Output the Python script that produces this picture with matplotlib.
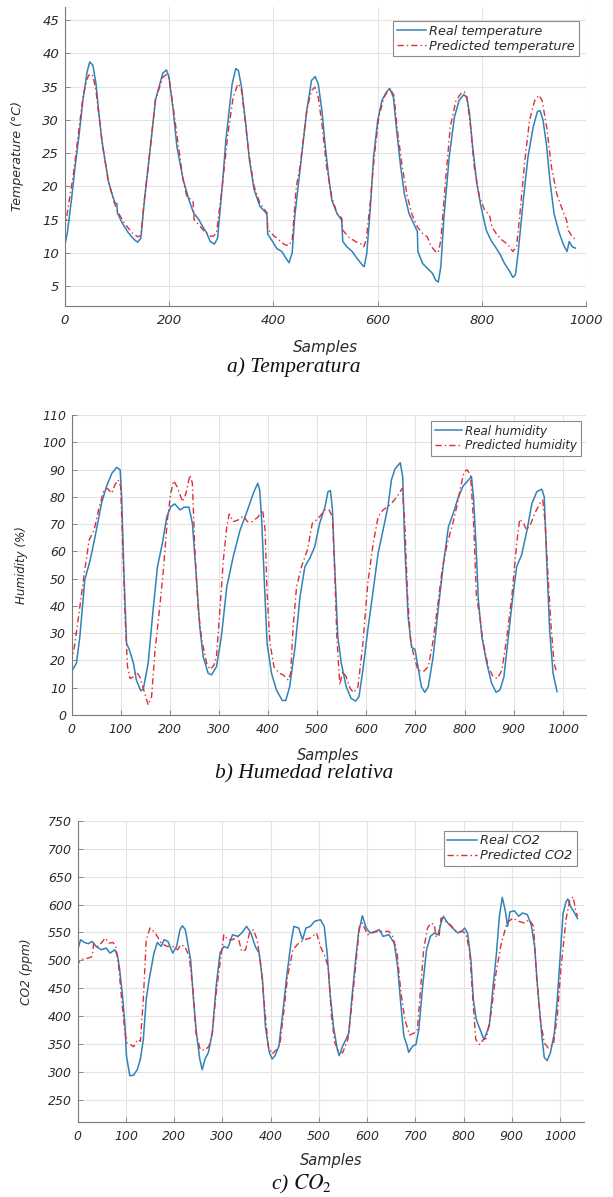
import matplotlib
matplotlib.use("Agg")
import matplotlib.pyplot as plt

plt.rcParams['mathtext.fontset'] = 'stix'

# ---------------- data: a) temperature ----------------
temp_real_x = [0, 5, 13, 20, 28, 35, 43, 48, 54, 60, 65, 71, 77, 84, 92, 97, 100, 101, 110, 122, 133, 140,
               146, 153, 163, 174, 188, 195, 200, 208, 215, 227, 238, 247, 257, 264, 272, 279, 287, 293,
               302, 309, 321, 328, 333, 339, 347, 354, 363, 374, 386, 388, 389, 396, 407, 416, 424, 430,
               436, 441, 451, 464, 473, 480, 486, 493, 499, 506, 512, 522, 531, 533, 541, 551, 560, 570,
               574, 579, 586, 592, 600, 608, 617, 623, 630, 637, 644, 651, 660, 670, 676, 677, 686, 695,
               705, 711, 716, 721, 727, 737, 747, 756, 765, 771, 776, 782, 790, 798, 808, 817, 827, 835,
               843, 853, 859, 864, 869, 879, 888, 898, 906, 911, 917, 924, 930, 938, 947, 956, 963, 967,
               973, 979]
temp_real = [11.0, 13, 18, 23, 28, 33, 37.2, 38.7, 38.2, 35.4, 31.4, 27, 24, 20.7, 18.5, 17.4, 17.4, 16, 14.5, 13, 12, 11.6,
             12.2, 18, 25, 33, 37, 37.5, 36.4, 31.4, 26, 21, 18, 16, 15, 14, 13, 11.7, 11.3, 12.2,
             20, 27, 35.4, 37.7, 37.4, 34.9, 29.4, 24, 19.5, 17, 16, 15.5, 12.8, 12, 10.6, 10.2, 9.2, 8.5,
             10, 15.5, 22.4, 31.4, 35.9, 36.5, 35.4, 31.4, 26.4, 21.4, 17.9, 15.9, 14.9, 11.7, 10.9, 10.2, 9.2, 8.2,
             7.9, 9.9, 16.9, 24.4, 29.9, 32.9, 34.2, 34.7, 33.4, 27.9, 22.9, 18.9, 15.9, 14.2, 13.2, 10.2, 8.4, 7.7,
             6.9, 5.9, 5.6, 7.9, 15.4, 24.4, 30.4, 32.9, 33.8, 33.3, 30.9, 25.9, 20.4, 16.9, 13.4, 11.9, 10.7, 9.7,
             8.4, 7.2, 6.3, 6.7, 9.9, 17.9, 24.4, 28.9, 31.2, 31.4, 29.9, 25.9, 20.9, 15.9, 13.2, 11.2, 10.2, 11.7,
             10.9, 10.7]
temp_pred_x = [0, 5, 17, 28, 35, 43, 48, 54, 60, 65, 73, 83, 95, 103, 114, 129, 140, 146, 152, 163, 174,
               188, 195, 200, 208, 218, 227, 234, 242, 246, 248, 257, 268, 279, 285, 291, 302, 313, 323,
               332, 338, 345, 354, 363, 374, 386, 388, 389, 399, 411, 422, 430, 436, 444, 451, 464, 473,
               480, 486, 493, 502, 512, 522, 531, 533, 544, 557, 567, 573, 578, 586, 594, 602, 612, 623,
               631, 637, 647, 657, 666, 676, 686, 695, 703, 711, 716, 721, 729, 739, 750, 760, 766, 771,
               778, 785, 795, 805, 814, 819, 827, 837, 850, 859, 866, 872, 882, 891, 901, 909, 915, 924,
               933, 943, 952, 962, 965, 973, 981]
temp_pred = [13.5, 16, 22, 29, 33.5, 36.2, 36.9, 36.6, 34.4, 31, 26, 21, 17.5, 16, 14.5, 13, 12.4, 12.6, 17.5, 25, 33,
             36.4, 36.8, 36.2, 31.9, 26, 21, 18.5, 18, 17.7, 15, 14.2, 13.2, 12.5, 12.5, 13, 20, 28, 33.4,
             35.4, 34.9, 30.4, 24.4, 20, 17.5, 16.2, 16, 13.5, 12.7, 11.9, 11.2, 11.1, 12, 20, 22.9, 31.4, 34.4,
             34.9, 33.4, 29.4, 22.9, 18.4, 15.9, 15.2, 13.4, 12.4, 11.7, 11.4, 10.9, 11.9, 17.9, 24.9, 30.4, 33.4, 34.7,
             33.7, 28.9, 22.9, 18.4, 15.7, 13.9, 12.9, 12.4, 10.9, 10.2, 10, 11.9, 19.9, 28.9, 32.9, 34, 34.2, 33.4,
             28.9, 22.9, 18.4, 16.4, 15.7, 13.9, 12.9, 12, 11.2, 10.2, 10.9, 15.4, 23.9, 29.9, 32.9, 33.7, 32.9, 28.9,
             22.9, 18.9, 16.9, 14.9, 13.4, 12.4, 11.9]

# ---------------- data: b) relative humidity ----------------
hum_real_x = [0, 10, 17, 27, 38, 48, 61, 71, 82, 92, 99, 102, 107, 112, 118, 126, 132, 141, 146, 156, 166,
              175, 185, 194, 202, 210, 221, 229, 239, 246, 253, 261, 268, 278, 285, 295, 305, 316, 329,
              343, 356, 370, 379, 383, 387, 392, 398, 407, 417, 429, 436, 444, 455, 465, 475, 485, 495,
              505, 516, 522, 527, 531, 535, 542, 549, 559, 569, 578, 585, 593, 603, 614, 624, 634, 644,
              651, 658, 665, 669, 674, 678, 685, 692, 699, 705, 712, 719, 726, 736, 746, 757, 767, 777,
              787, 797, 808, 814, 818, 823, 828, 835, 845, 855, 864, 872, 880, 889, 898, 906, 916, 927,
              937, 947, 957, 962, 967, 973, 980, 988]
hum_real = [15.9, 19, 28.7, 49.5, 56.8, 65.4, 77.6, 83.7, 88.6, 90.8, 89.9, 80, 50.7, 26.3, 23.8, 19, 12.8, 8.9, 9.4, 19, 38.5,
            54.4, 63, 72.7, 76.4, 77.4, 75.2, 76.2, 76.2, 70.3, 53.2, 32.4, 21.4, 15.3, 14.7, 17.7, 28.7, 47, 58,
            67.8, 74, 81.3, 85, 82.5, 71.5, 50.7, 26.3, 15.3, 9.2, 5.3, 5.3, 10.4, 25, 43.4, 54.4, 57.5, 61.7,
            70.3, 76.4, 81.9, 82.3, 75.2, 56.8, 28.7, 19, 10.4, 6.1, 5.1, 6.7, 16.5, 31.2, 45.8, 59.3, 67.8, 76.4,
            86.2, 90.1, 91.7, 92.5, 87.4, 63, 36, 24.8, 24.1, 17.7, 10.4, 8.3, 10.4, 21.4, 38.5, 55.6, 69, 74,
            79.8, 84, 86.2, 87.4, 80, 63, 42.2, 28.7, 19, 11.6, 8.3, 9.2, 14, 28.7, 43.4, 54.4, 58.7, 67.8,
            77.6, 81.9, 82.8, 80, 56.8, 31.2, 15.3, 8.6]
hum_pred_x = [0, 7, 17, 27, 36, 46, 55, 65, 73, 82, 88, 95, 100, 104, 109, 114, 119, 126, 132, 139, 147,
              156, 163, 170, 179, 187, 195, 202, 208, 215, 226, 233, 241, 246, 251, 258, 265, 275, 282,
              290, 295, 302, 309, 316, 321, 329, 339, 350, 358, 368, 380, 389, 394, 398, 404, 412, 423,
              431, 441, 446, 451, 458, 468, 480, 490, 502, 516, 524, 531, 535, 540, 546, 552, 559, 567,
              574, 583, 593, 603, 614, 624, 634, 644, 654, 665, 673, 678, 684, 690, 697, 705, 716, 726,
              735, 744, 755, 765, 776, 784, 792, 799, 805, 812, 818, 824, 831, 838, 848, 858, 867, 876,
              886, 896, 906, 912, 920, 926, 935, 943, 954, 959, 964, 969, 976, 982, 988]
hum_pred = [19, 26.3, 39.7, 53.2, 64.2, 67.8, 75.2, 81.9, 83.1, 81.3, 84.3, 86.2, 83.7, 63, 36, 17.7, 13.4, 14, 15.9, 14, 9.2,
            3.7, 6.7, 23.8, 38.5, 53.2, 71.5, 81.3, 85.9, 83.7, 78.2, 81.3, 88, 85, 60.5, 38.5, 27.5, 19, 16.7,
            18.3, 21.4, 38.5, 56.8, 69, 73.7, 70.9, 71.5, 73, 70.9, 70.9, 72.7, 75.2, 67.8, 44.6, 26.3, 17.7, 15.3,
            14.7, 12.8, 15.3, 32.4, 47, 54.4, 60.5, 70.3, 72.1, 75.2, 75.2, 72.7, 55.6, 28.7, 11, 15.9, 14, 9.8,
            8.2, 10.4, 26.3, 48.3, 63, 72.7, 75.2, 76.4, 78.2, 80.7, 83.1, 71.5, 43.4, 27.5, 21.4, 16.5, 15.9, 17.7,
            26.3, 38.5, 54.4, 63, 70.3, 76.4, 83.7, 89.2, 89.9, 88, 71.5, 43.4, 36, 26.3, 17.7, 14, 13.4, 16.5,
            28.7, 43.4, 63, 71.8, 70.3, 67.8, 70.3, 74, 77.9, 78.8, 70.3, 53.2, 32.4, 19, 15.3]

# ---------------- data: c) CO2 ----------------
co2_real_x = [0, 6, 14, 22, 30, 38, 49, 59, 67, 77, 83, 87, 93, 98, 101, 108, 116, 124, 130, 136, 142, 148,
              158, 165, 173, 179, 187, 197, 205, 212, 217, 223, 228, 234, 240, 246, 253, 258, 264, 271,
              279, 287, 295, 303, 311, 321, 332, 340, 350, 359, 368, 376, 383, 389, 397, 403, 409, 417,
              425, 434, 442, 448, 458, 466, 473, 482, 491, 503, 511, 517, 523, 530, 538, 542, 549, 556,
              562, 568, 576, 582, 590, 598, 606, 617, 625, 633, 645, 656, 663, 670, 676, 682, 686, 694,
              701, 707, 715, 723, 731, 739, 747, 753, 758, 767, 777, 788, 796, 802, 808, 815, 820, 826,
              834, 842, 853, 861, 868, 874, 880, 886, 891, 896, 905, 914, 922, 932, 940, 947, 953, 962,
              967, 973, 980, 988, 994, 1000, 1006, 1012, 1016, 1022, 1030, 1036]
co2_real = [519, 537, 532, 530, 534, 525, 519, 522, 513, 519, 507, 483, 436, 382, 329, 293, 294, 305, 323, 358, 430, 465,
            513, 532, 525, 537, 534, 513, 525, 555, 562, 555, 531, 501, 430, 370, 323, 304, 323, 335,
            370, 454, 513, 525, 522, 546, 543, 549, 561, 549, 525, 513, 465, 382, 335, 323, 329, 346,
            406, 477, 531, 561, 558, 537, 558, 561, 570, 573, 561, 513, 442, 382, 340, 329, 346, 358,
            370, 430, 501, 549, 580, 558, 549, 552, 555, 543, 546, 531, 489, 418, 364, 349, 335, 346,
            349, 376, 454, 519, 543, 549, 546, 567, 579, 567, 558, 549, 552, 558, 549, 501, 430, 394,
            376, 358, 382, 454, 513, 579, 613, 590, 561, 587, 589, 579, 585, 582, 564, 525, 454, 364,
            326, 320, 335, 370, 430, 507, 584, 605, 610, 596, 585, 575]
co2_pred_x = [0, 1, 10, 22, 30, 33, 42, 50, 57, 65, 73, 79, 85, 91, 98, 102, 109, 116, 124, 130, 136, 142,
              150, 161, 173, 185, 197, 207, 214, 222, 231, 239, 245, 254, 264, 272, 279, 287, 295, 303,
              311, 321, 332, 340, 348, 356, 364, 372, 380, 389, 395, 403, 411, 419, 427, 435, 446, 458,
              470, 482, 495, 503, 511, 519, 526, 533, 541, 549, 560, 568, 576, 584, 590, 601, 609, 621,
              633, 645, 653, 662, 670, 678, 688, 698, 704, 710, 717, 725, 732, 739, 743, 749, 753, 761,
              772, 784, 796, 804, 812, 819, 825, 833, 841, 847, 857, 867, 878, 890, 902, 914, 926, 936,
              945, 951, 959, 967, 975, 986, 994, 1002, 1012, 1020, 1027, 1032, 1036]
co2_pred = [488, 495, 502, 504, 507, 530, 525, 532, 540, 531, 532, 525, 489, 430, 370, 352, 349, 345, 358, 355, 430, 537,
            558, 549, 531, 525, 525, 519, 528, 525, 507, 448, 370, 340, 339, 346, 370, 442, 495, 546,
            537, 537, 543, 516, 519, 549, 555, 537, 489, 400, 346, 332, 339, 349, 406, 471, 519, 531,
            537, 540, 549, 525, 510, 489, 400, 352, 337, 334, 358, 418, 489, 561, 567, 546, 549, 552,
            552, 552, 543, 513, 442, 394, 366, 370, 376, 442, 519, 558, 567, 564, 543, 543, 576, 571,
            564, 552, 552, 549, 519, 430, 358, 349, 358, 360, 406, 477, 531, 567, 576, 570, 567, 573,
            561, 471, 394, 352, 343, 349, 400, 489, 573, 608, 614, 590, 579]

# ---------------- tick / label text ----------------
temp_xticks = [0, 200, 400, 600, 800, 1000]
temp_yticks = [5, 10, 15, 20, 25, 30, 35, 40, 45]
hum_xticks = [0, 100, 200, 300, 400, 500, 600, 700, 800, 900, 1000]
hum_yticks = [0, 10, 20, 30, 40, 50, 60, 70, 80, 90, 100, 110]
co2_xticks = [0, 100, 200, 300, 400, 500, 600, 700, 800, 900, 1000]
co2_yticks = [250, 300, 350, 400, 450, 500, 550, 600, 650, 700, 750]

BLUE = '#2f83b8'
RED = '#dc3039'
TXT = '#2b2b2b'
SPINE = '#7a7a7a'
GRID = '#e3e3e3'

W, H = 613, 1197
fig = plt.figure(figsize=(W / 100, H / 100), dpi=100)


def make_ax(left, right, top, bottom):
    return fig.add_axes([left / W, 1 - bottom / H, (right - left) / W, (bottom - top) / H])


def style(ax, xticks, yticks, xlim, ylim, ylabel, tick_fs, xl_fs, yl_fs,
          xl_off, yl_x, labels, leg_fs, leg_anchor):
    ax.plot(*labels[0][0], color=BLUE, lw=1.1, label=labels[0][1])
    ax.plot(*labels[1][0], color=RED, lw=1.0, dashes=(4.5, 2.2, 1.0, 2.2), label=labels[1][1])
    ax.set_xlim(*xlim)
    ax.set_ylim(*ylim)
    ax.set_xticks(xticks)
    ax.set_yticks(yticks)
    ax.grid(True, color=GRID, lw=0.8)
    ax.set_axisbelow(True)
    for s in ['top', 'right']:
        ax.spines[s].set_visible(False)
    for s in ['left', 'bottom']:
        ax.spines[s].set_color(SPINE)
        ax.spines[s].set_linewidth(0.8)
    ax.tick_params(direction='in', length=3.5, width=0.6, color=SPINE,
                   labelsize=tick_fs, labelcolor=TXT)
    ax.tick_params(axis='x', pad=6)
    ax.tick_params(axis='y', pad=4)
    for t in ax.get_xticklabels() + ax.get_yticklabels():
        t.set_fontstyle('italic')
    ax.set_xlabel('Samples', fontsize=xl_fs, fontstyle='italic', color=TXT)
    ax.set_ylabel(ylabel, fontsize=yl_fs, fontstyle='italic', color=TXT)
    pos = ax.get_position()
    hpx = pos.height * H
    wpx = pos.width * W
    ax.xaxis.set_label_coords(0.5, -xl_off / hpx)
    ax.yaxis.set_label_coords(-(pos.x0 * W - yl_x) / wpx, 0.5)
    leg = ax.legend(loc='upper right', bbox_to_anchor=leg_anchor, borderaxespad=0,
                    frameon=True, fancybox=False, framealpha=1,
                    edgecolor='#8a8a8a', handlelength=2.3, handletextpad=0.25,
                    labelspacing=0.15, borderpad=0.3, prop={'style': 'italic', 'size': leg_fs})
    leg.get_frame().set_linewidth(0.8)
    for t in leg.get_texts():
        t.set_color(TXT)


# a) temperature
ax1 = make_ax(64.7, 586.4, 6.7, 306)
style(ax1, temp_xticks, temp_yticks, (0, 1000), (2, 47), 'Temperature (°C)', 9.5, 11, 9.1,
      34, 24, [((temp_real_x, temp_real), 'Real temperature'),
               ((temp_pred_x, temp_pred), 'Predicted temperature')],
      9.3, ((579 - 64.7) / 521.7, 1 - (20.7 - 6.7) / 299.3))

# b) humidity
ax2 = make_ax(71.5, 585.5, 415, 715)
style(ax2, hum_xticks, hum_yticks, (0, 1046), (0, 110), 'Humidity (%)', 9, 10.5, 8.6,
      33, 28, [((hum_real_x, hum_real), 'Real humidity'),
               ((hum_pred_x, hum_pred), 'Predicted humidity')],
      8.6, ((580.7 - 71.5) / 514, 1 - (421 - 415) / 300))

# c) CO2
ax3 = make_ax(77.7, 584.3, 821, 1122)
style(ax3, co2_xticks, co2_yticks, (0, 1050), (210, 750), 'CO2 (ppm)', 9, 10.5, 8.8,
      31, 33, [((co2_real_x, co2_real), 'Real CO2'),
               ((co2_pred_x, co2_pred), 'Predicted CO2')],
      9.3, ((576.5 - 77.7) / 506.6, 1 - (830.6 - 821) / 301))

cap_kw = dict(fontsize=15.5, fontstyle='italic', family='Liberation Serif',
              ha='center', va='center', color='#111111')
fig.text(294 / W, 1 - 366.7 / H, 'a) Temperatura', **cap_kw)
fig.text(304 / W, 1 - 774 / H, 'b) Humedad relativa', **cap_kw)
fig.text(302 / W, 1 - 1184 / H, r'c) $CO_2$', **cap_kw)

fig.savefig('out.png', dpi=100)
